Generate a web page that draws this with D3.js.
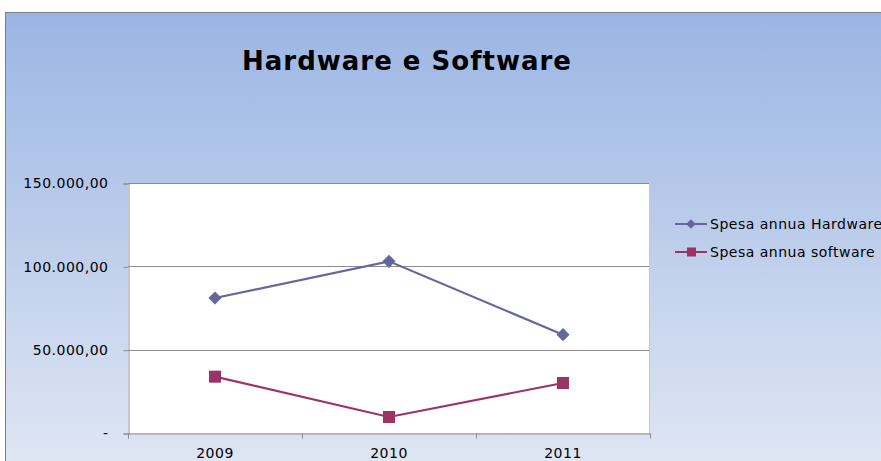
<!DOCTYPE html>
<html>
<head>
<meta charset="utf-8">
<script src="https://cdn.jsdelivr.net/npm/d3@7"></script>
<style>
  body { margin: 0; background: #fff; }
  text { font-family: "DejaVu Sans", Verdana, sans-serif; }
</style>
</head>
<body>
<script>
// data
let years = ['2009', '2010', '2011'];
let hardware = [81000, 103000, 59000];
let software = [33800, 9600, 30000];
let seriesNames = ['Spesa annua Hardware', 'Spesa annua software'];
let yTicks = [0, 50000, 100000, 150000];

let W = 881, H = 461;
let plot = {left: 128, right: 650, top: 183, bottom: 433};
let colors = ['#66669f', '#9c3364'];

let svg = d3.select('body').append('svg')
  .attr('width', W)
  .attr('height', H);

let defs = svg.append('defs');
let grad = defs.append('linearGradient')
  .attr('id', 'bg')
  .attr('x1', 0).attr('y1', 0).attr('x2', 0).attr('y2', 1);
grad.append('stop').attr('offset', '0%').attr('stop-color', '#9bb5e3');
grad.append('stop').attr('offset', '100%').attr('stop-color', '#e0e7f4');

// chart area background + border
svg.append('rect')
  .attr('x', 5.5).attr('y', 12.5)
  .attr('width', W + 10).attr('height', H)
  .attr('fill', 'url(#bg)')
  .attr('stroke', '#808080');

svg.append('text')
  .attr('x', 407).attr('y', 70)
  .attr('text-anchor', 'middle')
  .attr('font-size', 26)
  .attr('letter-spacing', 1)
  .attr('font-weight', 'bold')
  .attr('fill', '#000')
  .text('Hardware e Software');

let x = d3.scaleBand()
  .domain(years)
  .range([plot.left, plot.right]);

let y = d3.scaleLinear()
  .domain([0, 150000])
  .range([plot.bottom, plot.top]);

// plot area
svg.append('rect')
  .attr('x', plot.left).attr('y', plot.top)
  .attr('width', plot.right - plot.left).attr('height', plot.bottom - plot.top)
  .attr('fill', '#fff');

// gridlines
svg.append('g')
  .selectAll('line')
  .data(yTicks.slice(1))
  .enter().append('line')
  .attr('x1', plot.left).attr('x2', plot.right)
  .attr('y1', d => Math.round(y(d)) + 0.5)
  .attr('y2', d => Math.round(y(d)) + 0.5)
  .attr('stroke', '#8c8c8c');

svg.append('line')
  .attr('x1', plot.right - 0.5).attr('x2', plot.right - 0.5)
  .attr('y1', plot.top).attr('y2', plot.bottom)
  .attr('stroke', '#c8c8c8');

let fmt = d => d === 0 ? '-' : d3.format(',.2f')(d).replace(/,/g, '#').replace('.', ',').replace(/#/g, '.');

let yAxis = d3.axisLeft(y)
  .tickValues(yTicks)
  .tickSize(5)
  .tickPadding(15)
  .tickFormat(fmt);

let gy = svg.append('g')
  .attr('transform', 'translate(' + (plot.left + 0.5) + ',0.5)')
  .call(yAxis);
gy.select('.domain').attr('stroke', '#8c8c8c');
gy.selectAll('.tick line').attr('stroke', '#8c8c8c');
gy.selectAll('.tick text')
  .attr('font-size', 14)
  .attr('letter-spacing', 0.5)
  .attr('font-family', '"DejaVu Sans", Verdana, sans-serif')
  .attr('fill', '#000');

let xAxis = d3.axisBottom(x)
  .tickSize(5)
  .tickPadding(10)
  .tickSizeOuter(0);

let gx = svg.append('g')
  .attr('transform', 'translate(0,' + (plot.bottom + 0.5) + ')')
  .call(xAxis);
gx.select('.domain').attr('stroke', '#8c8c8c');
gx.selectAll('.tick line').remove();
gx.selectAll('.tick text')
  .attr('font-size', 14)
  .attr('letter-spacing', 0.5)
  .attr('font-family', '"DejaVu Sans", Verdana, sans-serif')
  .attr('fill', '#000');
// category separators
gx.selectAll('.sep')
  .data([plot.left].concat(years.map(d => x(d) + x.bandwidth())))
  .enter().append('line')
  .attr('x1', d => Math.round(d) + 0.5).attr('x2', d => Math.round(d) + 0.5)
  .attr('y1', 0).attr('y2', 5)
  .attr('stroke', '#8c8c8c');

let cx = d => x(d) + x.bandwidth() / 2;
let line = d3.line().x((d, i) => cx(years[i])).y(d => y(d));

let series = [hardware, software];
series.forEach((vals, si) => {
  svg.append('path')
    .datum(vals)
    .attr('d', line)
    .attr('fill', 'none')
    .attr('stroke', colors[si])
    .attr('stroke-width', 2.2);
});

let diamond = d3.symbol().type(d3.symbolDiamond2).size(110);
svg.append('g').selectAll('path')
  .data(hardware)
  .enter().append('path')
  .attr('d', diamond)
  .attr('transform', (d, i) => 'translate(' + cx(years[i]) + ',' + y(d) + ')')
  .attr('fill', colors[0]);

svg.append('g').selectAll('rect')
  .data(software)
  .enter().append('rect')
  .attr('x', (d, i) => cx(years[i]) - 6)
  .attr('y', d => y(d) - 6)
  .attr('width', 12).attr('height', 12)
  .attr('fill', colors[1]);

// legend
let legend = svg.append('g');
seriesNames.forEach((name, i) => {
  let ly = 224 + i * 28;
  legend.append('line')
    .attr('x1', 675).attr('x2', 707)
    .attr('y1', ly).attr('y2', ly)
    .attr('stroke', colors[i])
    .attr('stroke-width', 2);
  if (i === 0) {
    legend.append('path')
      .attr('d', d3.symbol().type(d3.symbolDiamond2).size(60))
      .attr('transform', 'translate(691,' + ly + ')')
      .attr('fill', colors[i]);
  } else {
    legend.append('rect')
      .attr('x', 687).attr('y', ly - 4.5)
      .attr('width', 9).attr('height', 9)
      .attr('fill', colors[i]);
  }
  legend.append('text')
    .attr('x', 710).attr('y', ly + 5)
    .attr('font-size', 14)
    .attr('letter-spacing', 0.5)
    .attr('fill', '#000')
    .text(name);
});
</script>
</body>
</html>
